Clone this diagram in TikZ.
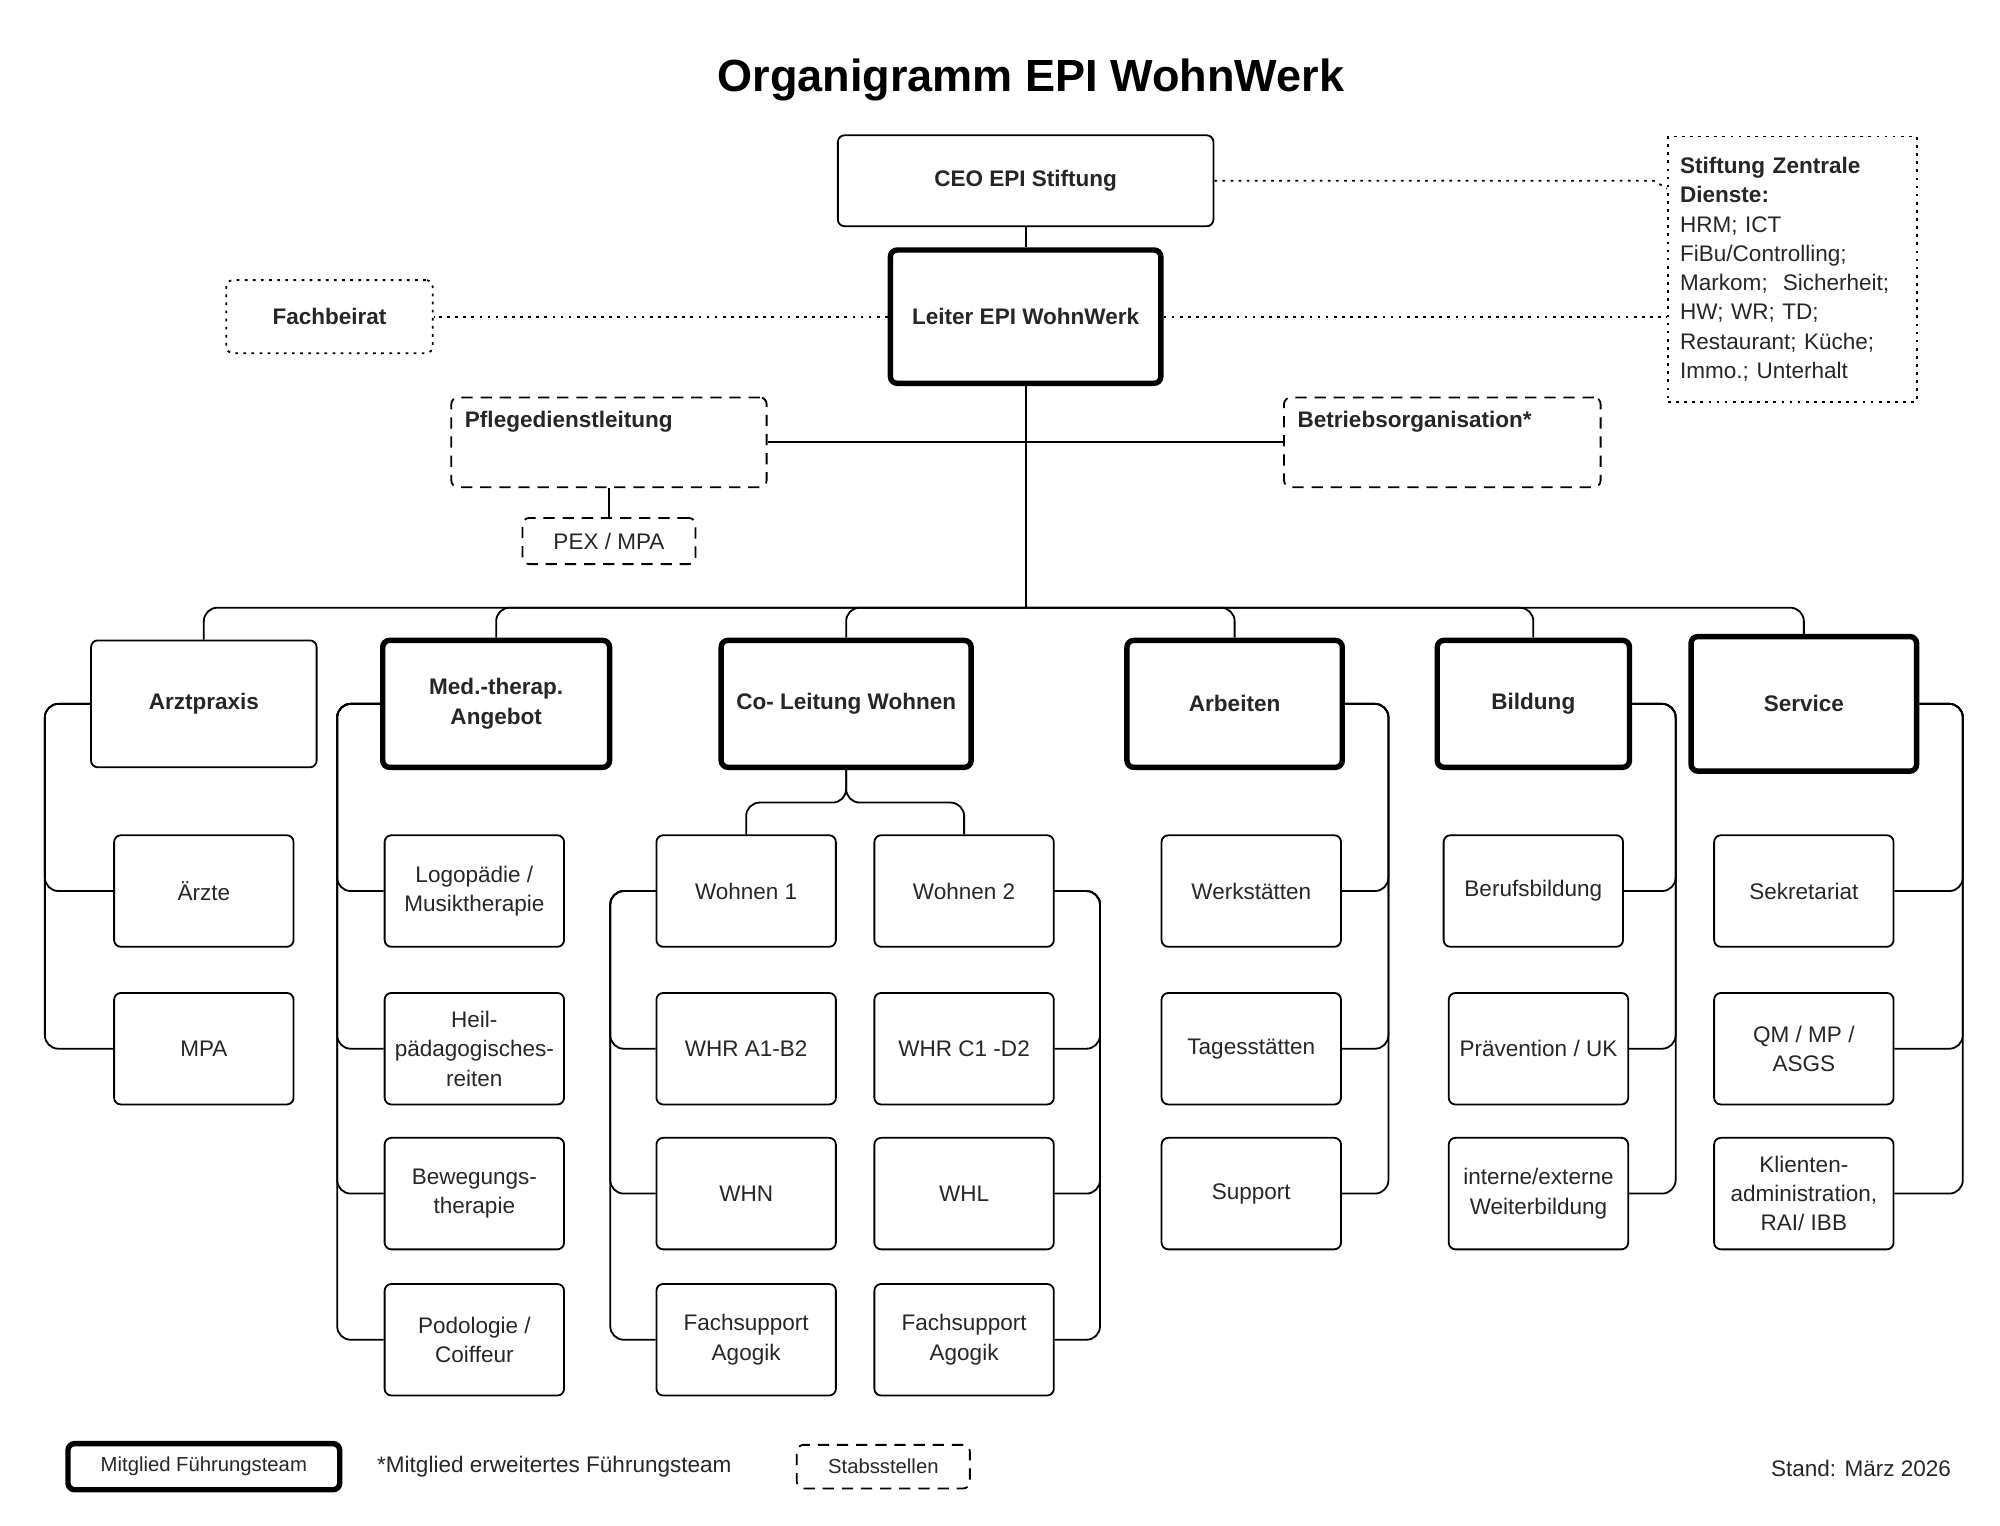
\documentclass[tikz,border=0pt]{standalone}
\usepackage{fontspec}
\setmainfont{Liberation Sans}
\newcommand{\thin}{0.8pt}
\newcommand{\thick}{2.4pt}

\begin{document}
\begin{tikzpicture}[x=0.02cm, y=-0.02cm,
    every node/.style={font=\fontsize{10}{13}\selectfont, text=black!85},
    box/.style={draw, rectangle, rounded corners=3pt, line width=\thin, align=center, inner sep=2pt},
    sub/.style={box, minimum width=2.8cm, minimum height=1.74cm},
    head/.style={box, font=\fontsize{10}{13}\selectfont\bfseries},
    lead/.style={head, line width=\thick},
    staff/.style={box, dash pattern=on 5pt off 3.5pt},
    extern/.style={box, dash pattern=on 1.2pt off 2.4pt, rounded corners=0pt},
    link/.style={line width=\thin, rounded corners=6pt},
    dots/.style={line width=\thin, dash pattern=on 1.2pt off 2.4pt}]
    \useasboundingbox (0,0) rectangle (1560,1190);

    % Title
    \node[font=\fontsize{20}{24}\selectfont\bfseries, text=black] (title) at (804,62) {Organigramm EPI WohnWerk};

    % Top
    \node[head, minimum width=5.86cm, minimum height=1.42cm] (ceo) at (800,141) {CEO EPI Stiftung};
    \node[lead, minimum width=4.22cm, minimum height=2.08cm] (leiter) at (800,247) {Leiter EPI WohnWerk};
    \node[extern, head, minimum width=3.22cm, minimum height=1.14cm] (beirat) at (257,247) {Fachbeirat};
    \node[extern, minimum width=3.88cm, minimum height=4.14cm, text width=3.5cm, align=left] (zentral) at (1398,210)
        {\textbf{Stiftung Zentrale Dienste:}\\HRM; ICT\\FiBu/Controlling;\\Markom;\ \ Sicherheit;\\HW; WR; TD;\\Restaurant; Küche;\\Immo.; Unterhalt};
    \node[staff, minimum width=4.92cm, minimum height=1.4cm,
        label={[anchor=north west, inner sep=0.22cm, font=\fontsize{10}{13}\selectfont\bfseries]north west:Pflegedienstleitung}] (pflege) at (475,345) {};
    \node[staff, minimum width=2.7cm, minimum height=0.72cm] (pex) at (475,422) {PEX / MPA};
    \node[staff, minimum width=4.94cm, minimum height=1.4cm,
        label={[anchor=north west, inner sep=0.22cm, font=\fontsize{10}{13}\selectfont\bfseries]north west:Betriebsorganisation*}] (betrieb) at (1125,345) {};

    \draw[link] (ceo) -- (leiter);
    \draw[dots] (ceo.east) -- (1290,141) -- (zentral.west |- 0,147);
    \draw[dots] (leiter.east) -- (zentral.west |- leiter.east);
    \draw[dots] (leiter.west) -- (beirat.east);
    \coordinate (bus) at (800,474);
    \draw[link] (leiter.south) -- (bus);
    \draw[link] (pflege.east) -- (leiter.south |- pflege.east);
    \draw[link] (betrieb.west) -- (leiter.south |- betrieb.west);
    \draw[link] (pflege.south) -- (pex.north);

    % Bereiche
    \node[head, minimum width=3.52cm, minimum height=1.98cm] (arzt) at (159,549) {Arztpraxis};
    \node[lead, minimum width=3.54cm, minimum height=1.98cm] (med) at (387,549) {Med.-therap.\\Angebot};
    \node[lead, minimum width=3.9cm, minimum height=1.98cm] (colt) at (660,549) {Co- Leitung Wohnen};
    \node[lead, minimum width=3.36cm, minimum height=1.98cm] (arbeit) at (963,549) {Arbeiten};
    \node[lead, minimum width=3.0cm, minimum height=1.98cm] (bildung) at (1196,549) {Bildung};
    \node[lead, minimum width=3.52cm, minimum height=2.1cm] (service) at (1407,549) {Service};
    \foreach \n in {arzt,med,colt,arbeit,bildung,service}
        \draw[link] (bus) -| (\n.north);

    % Arztpraxis
    \node[sub] (aerzte) at (159,695) {Ärzte};
    \node[sub] (arztmpa) at (159,818) {MPA};
    \foreach \n in {aerzte,arztmpa}
        \draw[link] (arzt.west) -- (35,549) |- (\n.west);

    % Med.-therap. Angebot
    \node[sub] (logo) at (370,695) {Logopädie /\\Musiktherapie};
    \node[sub] (heil) at (370,818) {Heil-\\pädagogisches-\\reiten};
    \node[sub] (beweg) at (370,931) {Bewegungs-\\therapie};
    \node[sub] (podo) at (370,1045) {Podologie /\\Coiffeur};
    \foreach \n in {logo,heil,beweg,podo}
        \draw[link] (med.west) -- (263,549) |- (\n.west);

    % Wohnen
    \node[sub] (w1) at (582,695) {Wohnen 1};
    \node[sub] (w2) at (752,695) {Wohnen 2};
    \node[sub] (whra) at (582,818) {WHR A1-B2};
    \node[sub] (whrc) at (752,818) {WHR C1 -D2};
    \node[sub] (whn) at (582,931) {WHN};
    \node[sub] (whl) at (752,931) {WHL};
    \node[sub] (fs1) at (582,1045) {Fachsupport\\Agogik};
    \node[sub] (fs2) at (752,1045) {Fachsupport\\Agogik};
    \draw[link] (colt.south) -- (660,626) -| (w1.north);
    \draw[link] (colt.south) -- (660,626) -| (w2.north);
    \foreach \n in {whra,whn,fs1}
        \draw[link] (w1.west) -- (476,695) |- (\n.west);
    \foreach \n in {whrc,whl,fs2}
        \draw[link] (w2.east) -- (858,695) |- (\n.east);

    % Arbeiten
    \node[sub] (werk) at (976,695) {Werkstätten};
    \node[sub] (tages) at (976,818) {Tagesstätten};
    \node[sub] (supp) at (976,931) {Support};
    \foreach \n in {werk,tages,supp}
        \draw[link] (arbeit.east) -- (1083,549) |- (\n.east);

    % Bildung
    \node[sub] (beruf) at (1196,695) {Berufsbildung};
    \node[sub] (praev) at (1200,818) {Prävention / UK};
    \node[sub] (weiter) at (1200,931) {interne/externe\\Weiterbildung};
    \foreach \n in {beruf,praev,weiter}
        \draw[link] (bildung.east) -- (1307,549) |- (\n.east);

    % Service
    \node[sub] (sekr) at (1407,695) {Sekretariat};
    \node[sub] (qm) at (1407,818) {QM / MP /\\ASGS};
    \node[sub] (klient) at (1407,931) {Klienten-\\administration,\\RAI/ IBB};
    \foreach \n in {sekr,qm,klient}
        \draw[link] (service.east) -- (1531,549) |- (\n.east);

    % Legende
    \node[box, line width=\thick, minimum width=4.24cm, minimum height=0.72cm, font=\fontsize{9}{11}\selectfont] (legft) at (159,1144) {Mitglied Führungsteam};
    \node[anchor=west] (legeft) at (288,1144) {*Mitglied erweitertes Führungsteam};
    \node[staff, minimum width=2.7cm, minimum height=0.68cm, font=\fontsize{9}{11}\selectfont] (legstab) at (689,1144) {Stabsstellen};
    \node[anchor=east] (stand) at (1528,1145) {Stand: März 2026};
\end{tikzpicture}
\end{document}
